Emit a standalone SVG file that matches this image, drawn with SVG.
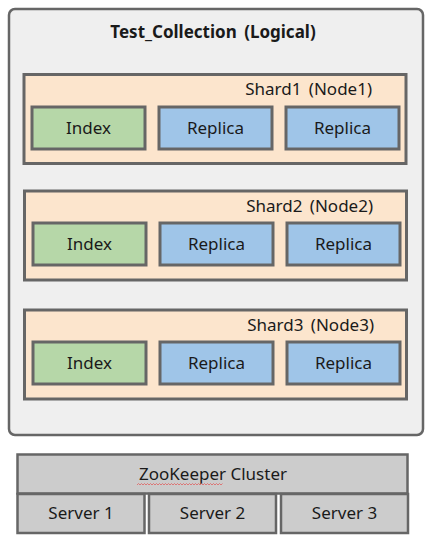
<svg xmlns="http://www.w3.org/2000/svg" width="428" height="546" viewBox="0 0 428 546">
<style>
text{font-family:"Noto Sans","Open Sans","Liberation Sans",sans-serif;font-size:17px;fill:#1a1a1a}
.c{text-anchor:middle}
.r{text-anchor:end}
.w{word-spacing:3px}
.b{font-weight:bold}
.shard{fill:#fce5cd;stroke:#666;stroke-width:3}
.idx{fill:#b6d7a8;stroke:#666;stroke-width:3}
.rep{fill:#9fc5e8;stroke:#666;stroke-width:3}
.zk{fill:#cccccc;stroke:#666;stroke-width:2.5}
</style>
<rect width="428" height="546" fill="#fff"/>
<g id="collection">
<rect x="9" y="9" width="414" height="426" rx="6" fill="#efefef" stroke="#666" stroke-width="2.5"/>
<text class="c b w" x="213" y="38">Test_Collection (Logical)</text>
</g>
<g id="shard1">
<rect class="shard" x="24" y="74.5" width="382" height="89"/>
<text class="r w" x="372" y="95">Shard1 (Node1)</text>
</g>
<g id="shard1-index"><rect class="idx" x="32" y="107" width="113" height="42"/><text class="c" x="88.5" y="134">Index</text></g>
<g id="shard1-replica1"><rect class="rep" x="159" y="107" width="113" height="42"/><text class="c" x="215.5" y="134">Replica</text></g>
<g id="shard1-replica2"><rect class="rep" x="286" y="107" width="113" height="42"/><text class="c" x="342.5" y="134">Replica</text></g>
<g id="shard2">
<rect class="shard" x="24.5" y="191" width="382" height="89"/>
<text class="r w" x="373" y="212">Shard2 (Node2)</text>
</g>
<g id="shard2-index"><rect class="idx" x="33" y="223" width="113" height="42"/><text class="c" x="89.5" y="250">Index</text></g>
<g id="shard2-replica1"><rect class="rep" x="160" y="223" width="113" height="42"/><text class="c" x="216.5" y="250">Replica</text></g>
<g id="shard2-replica2"><rect class="rep" x="287" y="223" width="113" height="42"/><text class="c" x="343.5" y="250">Replica</text></g>
<g id="shard3">
<rect class="shard" x="24.5" y="310" width="382" height="89"/>
<text class="r w" x="374" y="331">Shard3 (Node3)</text>
</g>
<g id="shard3-index"><rect class="idx" x="33" y="342" width="113" height="42"/><text class="c" x="89.5" y="369">Index</text></g>
<g id="shard3-replica1"><rect class="rep" x="160" y="342" width="113" height="42"/><text class="c" x="216.5" y="369">Replica</text></g>
<g id="shard3-replica2"><rect class="rep" x="287" y="342" width="113" height="42"/><text class="c" x="343.5" y="369">Replica</text></g>
<g id="zookeeper">
<rect class="zk" x="17.5" y="454.5" width="390" height="39"/>
<text class="c" x="213" y="480">ZooKeeper Cluster</text>
<path d="M137,485 l1.5,-1.5 l1.5,1.5 l1.5,-1.5 l1.5,1.5 l1.5,-1.5 l1.5,1.5 l1.5,-1.5 l1.5,1.5 l1.5,-1.5 l1.5,1.5 l1.5,-1.5 l1.5,1.5 l1.5,-1.5 l1.5,1.5 l1.5,-1.5 l1.5,1.5 l1.5,-1.5 l1.5,1.5 l1.5,-1.5 l1.5,1.5 l1.5,-1.5 l1.5,1.5 l1.5,-1.5 l1.5,1.5 l1.5,-1.5 l1.5,1.5 l1.5,-1.5 l1.5,1.5 l1.5,-1.5 l1.5,1.5 l1.5,-1.5 l1.5,1.5 l1.5,-1.5 l1.5,1.5 l1.5,-1.5 l1.5,1.5 l1.5,-1.5 l1.5,1.5 l1.5,-1.5 l1.5,1.5 l1.5,-1.5 l1.5,1.5 l1.5,-1.5 l1.5,1.5 l1.5,-1.5 l1.5,1.5 l1.5,-1.5 l1.5,1.5 l1.5,-1.5 l1.5,1.5 l1.5,-1.5 l1.5,1.5 l1.5,-1.5 l1.5,1.5 l1.5,-1.5 l1.5,1.5 l1.5,-1.5" fill="none" stroke="#e06060" stroke-width="0.8"/>
</g>
<g id="server1"><rect class="zk" x="17.5" y="494" width="127" height="39"/><text class="c" x="81" y="519">Server 1</text></g>
<g id="server2"><rect class="zk" x="149" y="494" width="127" height="39"/><text class="c" x="212.5" y="519">Server 2</text></g>
<g id="server3"><rect class="zk" x="281" y="494" width="127" height="39"/><text class="c" x="344.5" y="519">Server 3</text></g>
<g id="connectors"></g>
</svg>
